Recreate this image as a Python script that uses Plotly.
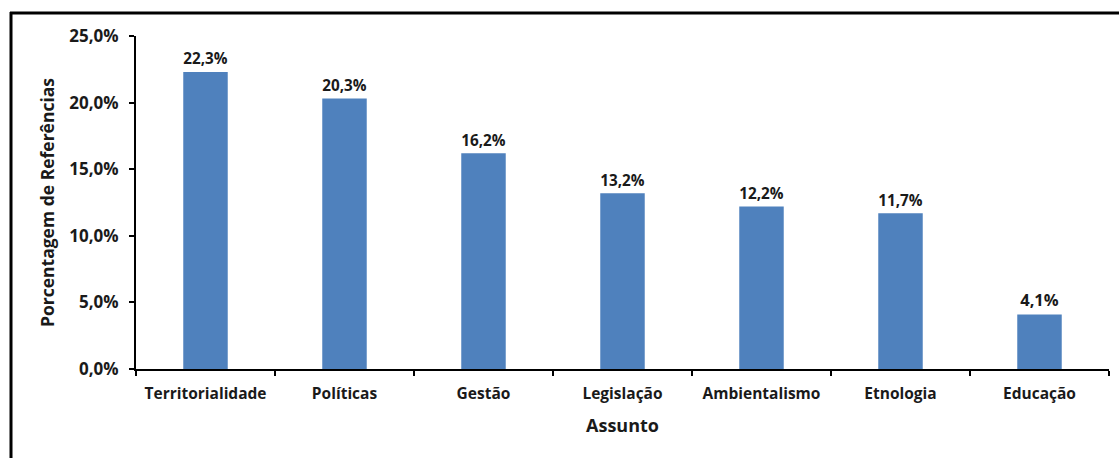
import plotly.graph_objects as go

categories = ["Territorialidade", "Políticas", "Gestão", "Legislação", "Ambientalismo", "Etnologia", "Educação"]
values = [22.3, 20.3, 16.2, 13.2, 12.2, 11.7, 4.1]
value_labels = ["22,3%", "20,3%", "16,2%", "13,2%", "12,2%", "11,7%", "4,1%"]
y_ticks = [0, 5, 10, 15, 20, 25]
y_tick_labels = ["0,0%", "5,0%", "10,0%", "15,0%", "20,0%", "25,0%"]

W, H = 1119, 458
L, R, T, B = 136, 10, 36, 89
pw, ph = W - L - R, H - T - B

def px_x(x):
    return (x - L) / pw

def px_y(y):
    return (H - B - y) / ph

font_family = "Open Sans"
txt = "#1a1a1a"

fig = go.Figure(go.Bar(
    x=categories, y=values, text=value_labels, textposition="outside",
    textfont=dict(family=font_family, size=16.5, color=txt, weight="bold"),
    marker=dict(color="#4F81BD", line=dict(width=0)),
    width=0.32, cliponaxis=False,
))

fig.update_layout(
    width=W, height=H, margin=dict(l=L, r=R, t=T, b=B),
    paper_bgcolor="white", plot_bgcolor="white",
    showlegend=False,
    font=dict(family=font_family, color=txt),
    xaxis=dict(
        showline=True, linecolor="black", linewidth=2,
        ticks="outside", ticklen=5, tickcolor="black", tickwidth=2,
        tickson="boundaries", showgrid=False, ticklabelstandoff=9,
        tickfont=dict(family=font_family, size=15.5, color=txt, weight="bold"),
        title=dict(text="Assunto", font=dict(family=font_family, size=18, color=txt, weight="bold"), standoff=17),
    ),
    yaxis=dict(
        range=[0, 25], tickvals=y_ticks, ticktext=y_tick_labels,
        showline=True, linecolor="black", linewidth=2,
        ticks="outside", ticklen=5, tickcolor="black", tickwidth=2,
        showgrid=False, zeroline=False, ticklabelstandoff=7,
        tickfont=dict(family=font_family, size=17, color=txt, weight="bold"),
        title=dict(text="Porcentagem de Referências", font=dict(family=font_family, size=17.5, color=txt, weight="bold"), standoff=10),
    ),
    shapes=[
        dict(type="line", xref="paper", yref="paper", x0=px_x(10), x1=px_x(1119), y0=px_y(13), y1=px_y(13),
             line=dict(color="black", width=3)),
        dict(type="line", xref="paper", yref="paper", x0=px_x(11), x1=px_x(11), y0=px_y(12), y1=px_y(458),
             line=dict(color="black", width=3)),
    ],
)

fig.write_html("out.html")
